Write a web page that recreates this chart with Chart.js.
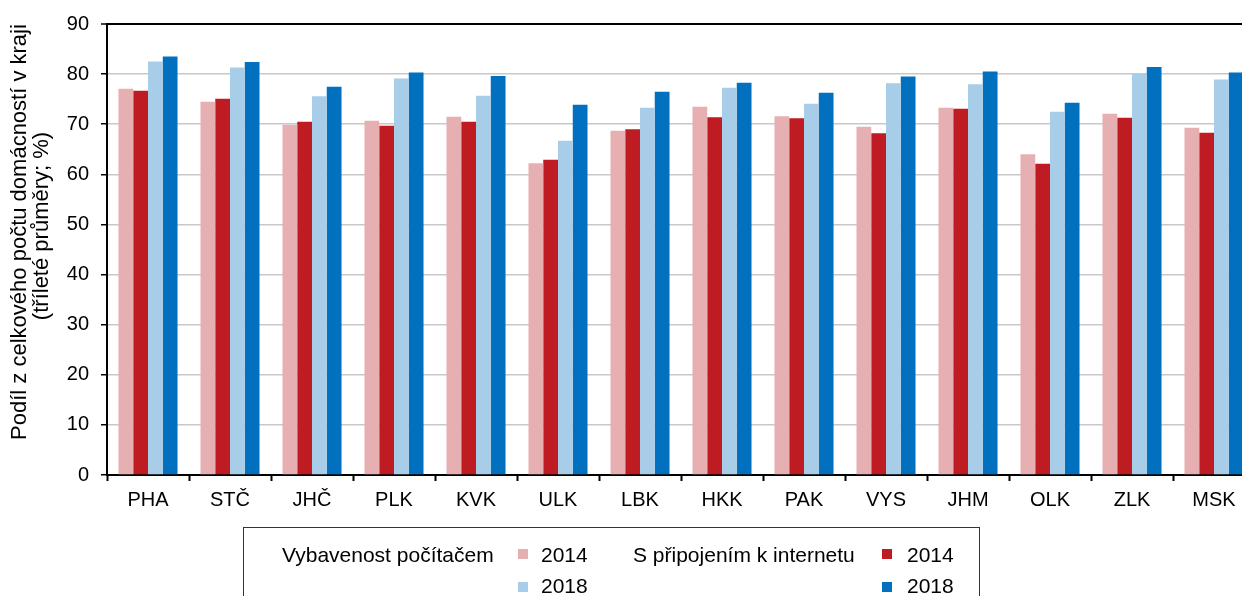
<!DOCTYPE html>
<html>
<head>
<meta charset="utf-8">
<script src="https://cdn.jsdelivr.net/npm/chart.js@4"></script>
<style>
    body { margin: 0; overflow: hidden; background: #fff; font-family: "Liberation Sans", Arial, sans-serif; }
    .wrap { position: relative; width: 1256px; height: 596px; }
    .legend { position: absolute; left: 243px; top: 527px; width: 737px; height: 80px; border: 1px solid #333; box-sizing: border-box; font-size: 21px; color: #000; }
    .legend span { position: absolute; line-height: 24px; white-space: nowrap; }
    .legend i { position: absolute; width: 10px; height: 10px; }
</style>
</head>
<body>
<div class="wrap">
    <canvas id="graf" width="1256" height="596"></canvas>
    <div class="legend">
        <span style="left:38px; top:15px">Vybavenost počítačem</span>
        <i style="left:274px; top:21px; background:#e6b0b3"></i>
        <span style="left:297px; top:15px">2014</span>
        <i style="left:274px; top:54px; background:#a8cde8"></i>
        <span style="left:297px; top:46px">2018</span>
        <span style="left:389px; top:15px">S připojením k internetu</span>
        <i style="left:638px; top:21px; background:#be1b22"></i>
        <span style="left:663px; top:15px">2014</span>
        <i style="left:638px; top:54px; background:#0070bf"></i>
        <span style="left:663px; top:46px">2018</span>
    </div>
</div>
<script>
const kraje = ['PHA', 'STČ', 'JHČ', 'PLK', 'KVK', 'ULK', 'LBK', 'HKK', 'PAK', 'VYS', 'JHM', 'OLK', 'ZLK', 'MSK']

const pocitac2014 = [77.1, 74.5, 69.9, 70.7, 71.5, 62.2, 68.7, 73.5, 71.6, 69.5, 73.3, 64.0, 72.1, 69.3]
const internet2014 = [76.7, 75.1, 70.5, 69.7, 70.5, 62.9, 69.0, 71.4, 71.2, 68.2, 73.1, 62.1, 71.3, 68.3]
const pocitac2018 = [82.5, 81.3, 75.6, 79.1, 75.7, 66.7, 73.3, 77.3, 74.1, 78.2, 78.0, 72.5, 80.0, 78.9]
const internet2018 = [83.5, 82.4, 77.5, 80.3, 79.6, 73.9, 76.5, 78.3, 76.3, 79.5, 80.5, 74.3, 81.4, 80.3]

const yTicks = [0, 10, 20, 30, 40, 50, 60, 70, 80, 90]
const yTitle = ['Podíl z celkového počtu domácností v kraji', '(tříleté průměry; %)']

const ctx = document.getElementById('graf')

function serie(label, data, color) {
    return {
        label: label,
        data: data,
        backgroundColor: color,
        borderWidth: 0,
        barPercentage: 1,
        categoryPercentage: 0.72
    }
}

// nadpis osy y kreslim sam, v Excelu je posunuty trochu nahoru
const titulekY = {
    id: 'titulekY',
    afterDraw(chart) {
        const c = chart.ctx
        c.save()
        c.fillStyle = '#000'
        c.font = '22px "Liberation Sans"'
        c.textAlign = 'center'
        c.textBaseline = 'middle'
        const pozice = [[20, 232], [42, 226]]
        yTitle.forEach((radek, i) => {
            c.save()
            c.translate(pozice[i][0], pozice[i][1])
            c.rotate(-Math.PI / 2)
            c.fillText(radek, 0, 0)
            c.restore()
        })
        c.restore()
    }
}

new Chart(ctx, {
    type: 'bar',
    data: {
        labels: kraje,
        datasets: [
            serie('Vybavenost počítačem 2014', pocitac2014, '#e6b0b3'),
            serie('S připojením k internetu 2014', internet2014, '#be1b22'),
            serie('Vybavenost počítačem 2018', pocitac2018, '#a8cde8'),
            serie('S připojením k internetu 2018', internet2018, '#0070bf')
        ]
    },
    plugins: [titulekY],
    options: {
        responsive: false,
        animation: false,
        layout: { padding: { top: 22, right: 1, bottom: 81, left: 0 } },
        plugins: {
            legend: { display: false },
            tooltip: { enabled: false }
        },
        scales: {
            x: {
                afterFit: (scale) => { scale.height = 40 },
                grid: { drawOnChartArea: false, tickLength: 6, tickColor: '#000', tickWidth: 2, offset: true },
                border: { color: '#000', width: 2 },
                ticks: { color: '#000', padding: 7, font: { family: 'Liberation Sans', size: 20 } }
            },
            y: {
                min: 0,
                max: 90,
                afterFit: (scale) => { scale.width = 107 },
                afterBuildTicks: (scale) => { scale.ticks = yTicks.map(v => ({ value: v })) },
                grid: {
                    color: (c) => c.tick && c.tick.value === 90 ? '#000' : '#c8c8c8',
                    lineWidth: (c) => c.tick && c.tick.value === 90 ? 2 : 1.5,
                    tickLength: 6,
                    tickColor: '#000',
                    tickWidth: 1.5
                },
                border: { color: '#000', width: 2 },
                ticks: { color: '#000', padding: 12, font: { family: 'Liberation Sans', size: 20 } }
            }
        }
    }
})
</script>
</body>
</html>
